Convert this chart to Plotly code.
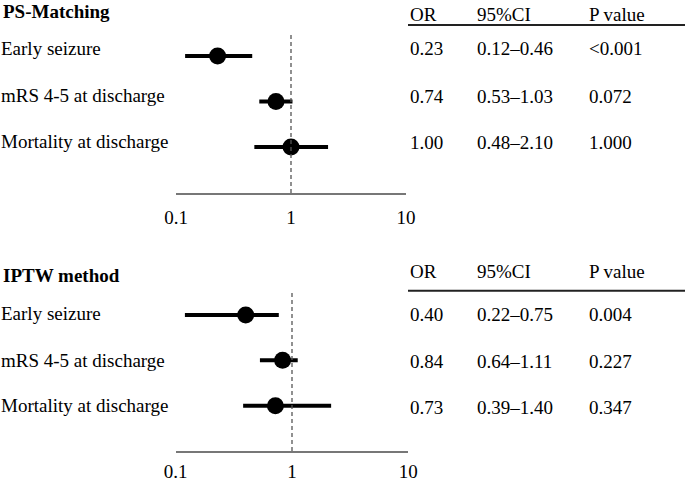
import plotly.graph_objects as go

# ---------------- data ----------------
outcomes = ["Early seizure", "mRS 4-5 at discharge", "Mortality at discharge"]
panel_titles = ["PS-Matching", "IPTW method"]
header_cols = ["OR", "95%CI", "P value"]

# PS-Matching
ps_or = [0.23, 0.74, 1.00]
ps_lo = [0.12, 0.53, 0.48]
ps_hi = [0.46, 1.03, 2.10]
ps_or_txt = ["0.23", "0.74", "1.00"]
ps_ci_txt = ["0.12\u20130.46", "0.53\u20131.03", "0.48\u20132.10"]
ps_p_txt = ["<0.001", "0.072", "1.000"]

# IPTW (drawn intervals)
ip_or = [0.40, 0.83, 0.72]
ip_lo = [0.12, 0.53, 0.38]
ip_hi = [0.77, 1.12, 2.17]
ip_or_txt = ["0.40", "0.84", "0.73"]
ip_ci_txt = ["0.22\u20130.75", "0.64\u20131.11", "0.39\u20131.40"]
ip_p_txt = ["0.004", "0.227", "0.347"]

tick_vals = [0.1, 1, 10]
tick_text = ["0.1", "1", "10"]

# ---------------- layout helpers ----------------
W, H = 685, 481
FONT = "Liberation Serif, Times New Roman, serif"
FS = 19


def px(x):
    return x / W


def py(y):
    return 1 - y / H


fig = go.Figure()

panels = [
    dict(title=panel_titles[0], orv=ps_or, lo=ps_lo, hi=ps_hi, ort=ps_or_txt, cit=ps_ci_txt, pt=ps_p_txt,
         xdom=(176, 406), ytop=32, ybot=193, yrange=[3.01, -0.527], standoff=6,
         title_y=11, header_y=14, line_y=25, text_rows=[48, 95.5, 141.5], table_rows=[49, 96.5, 142.5],
         xa="x", ya="y"),
    dict(title=panel_titles[1], orv=ip_or, lo=ip_lo, hi=ip_hi, ort=ip_or_txt, cit=ip_ci_txt, pt=ip_p_txt,
         xdom=(175.7, 408.3), ytop=290.7, ybot=451, yrange=[3.0, -0.536], standoff=2,
         title_y=275, header_y=271, line_y=290.7, text_rows=[313, 360, 405.5], table_rows=[314, 361, 407.5],
         xa="x2", ya="y2"),
]

annotations = []
shapes = []
col_x = [408, 475, 587]

for k, p in enumerate(panels):
    rows = list(range(len(outcomes)))
    fig.add_trace(go.Scatter(
        x=p["orv"], y=rows, mode="markers",
        marker=dict(size=17, color="black"),
        error_x=dict(type="data", symmetric=False,
                     array=[h - o for h, o in zip(p["hi"], p["orv"])],
                     arrayminus=[o - l for o, l in zip(p["orv"], p["lo"])],
                     color="black", thickness=4, width=0),
        xaxis=p["xa"], yaxis=p["ya"], showlegend=False, hoverinfo="skip",
    ))
    axkey = "xaxis" if k == 0 else "xaxis2"
    aykey = "yaxis" if k == 0 else "yaxis2"
    fig.update_layout(**{
        axkey: dict(domain=[px(p["xdom"][0]), px(p["xdom"][1])], type="log", range=[-1, 1],
                    anchor=p["ya"], showline=True, linecolor="#777", linewidth=2,
                    showgrid=False, zeroline=False, ticks="", automargin=False,
                    tickvals=tick_vals, ticktext=tick_text, ticklabelstandoff=p["standoff"],
                    tickfont=dict(family=FONT, size=FS, color="black"), fixedrange=True),
        aykey: dict(domain=[py(p["ybot"]), py(p["ytop"])], range=p["yrange"], visible=False,
                    anchor=p["xa"], fixedrange=True, automargin=False),
    })
    # dashed reference line at OR = 1
    shapes.append(dict(type="line", xref=p["xa"], yref=p["ya"] + " domain", x0=1, x1=1, y0=0, y1=1,
                       line=dict(color="#555", width=1.3, dash="4px,3px")))
    # header underline
    shapes.append(dict(type="line", xref="paper", yref="paper", x0=px(408), x1=1,
                       y0=py(p["line_y"]), y1=py(p["line_y"]), line=dict(color="#222", width=2)))
    # title
    annotations.append(dict(text="<b>" + p["title"] + "</b>", x=px(1), y=py(p["title_y"]),
                            xref="paper", yref="paper", xanchor="left", yanchor="middle",
                            showarrow=False, font=dict(family=FONT, size=FS, color="black")))
    for j, h in enumerate(header_cols):
        annotations.append(dict(text=h, x=px(col_x[j]), y=py(p["header_y"]), xref="paper", yref="paper",
                                xanchor="left", yanchor="middle", showarrow=False,
                                font=dict(family=FONT, size=FS, color="black")))
    for i, name in enumerate(outcomes):
        annotations.append(dict(text=name, x=px(-1), y=py(p["text_rows"][i]), xref="paper", yref="paper",
                                xanchor="left", yanchor="middle", showarrow=False,
                                font=dict(family=FONT, size=FS, color="black")))
        for j, t in enumerate([p["ort"][i], p["cit"][i], p["pt"][i]]):
            annotations.append(dict(text=t, x=px(col_x[j]), y=py(p["table_rows"][i]), xref="paper",
                                    yref="paper", xanchor="left", yanchor="middle", showarrow=False,
                                    font=dict(family=FONT, size=FS, color="black")))

fig.update_layout(
    width=W, height=H, margin=dict(l=0, r=0, t=0, b=0, autoexpand=False),
    paper_bgcolor="white", plot_bgcolor="white",
    annotations=annotations, shapes=shapes,
    font=dict(family=FONT, size=FS, color="black"),
)

fig.write_html("out.html", config={"displayModeBar": False},
               post_script="document.body.style.margin='0';document.body.style.overflow='hidden';")
